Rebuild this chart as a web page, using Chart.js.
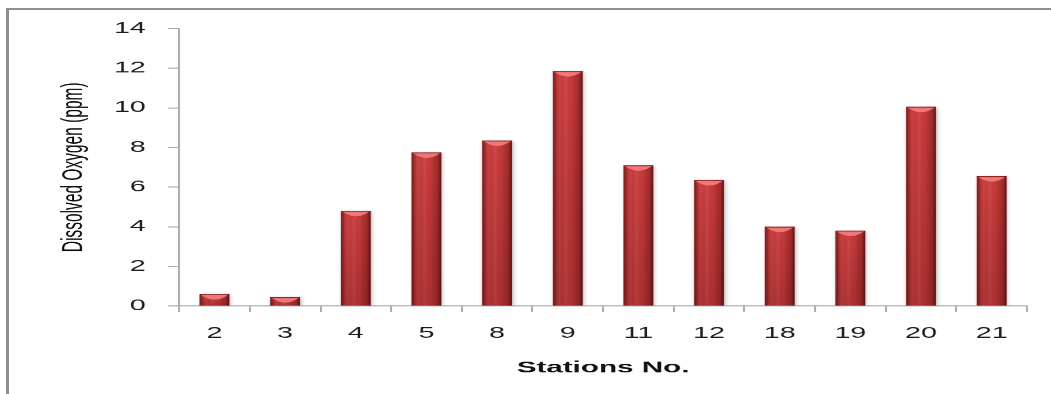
<!DOCTYPE html>
<html>
<head>
<meta charset="utf-8">
<script src="https://cdn.jsdelivr.net/npm/chart.js@4"></script>
<style>
  html, body { margin: 0; padding: 0; background: #ffffff; }
  body { width: 1051px; height: 394px; position: relative; overflow: hidden; }
  /* frame of the chart box, only its left and top edges fall inside the page */
  #frame {
    position: absolute; left: 6px; top: 8px; width: 1100px; height: 420px;
    border-left: 3px solid #8e8e8e; border-top: 2px solid #8e8e8e;
  }
  /* the chart is laid out narrow and widened horizontally */
  #wrap {
    position: absolute; left: 0; top: 0; width: 568px; height: 394px;
    transform: scaleX(1.8504); transform-origin: 0 0;
  }
</style>
</head>
<body>
<div id="frame"></div>
<div id="wrap"><canvas id="chart"></canvas></div>
<script>
// Stations and their dissolved oxygen readings (ppm)
const stations = ['2', '3', '4', '5', '8', '9', '11', '12', '18', '19', '20', '21'];
const dissolvedOxygen = [0.6, 0.45, 4.8, 7.75, 8.35, 11.85, 7.1, 6.35, 4.0, 3.8, 10.05, 6.55];

// Value axis range
const yMin = 0;
const yMax = 14;
const yStep = 2;

const axisGray = '#a6a6a6';
const stretch = 1.8504;

// Bevelled look for the bars: soft shadow underneath, then side shading and a lit top cap
const barLook = {
  id: 'barLook',
  beforeDatasetDraw(chart) {
    const ctx = chart.ctx;
    ctx.save();
    ctx.shadowColor = 'rgba(0,0,0,0.32)';
    ctx.shadowBlur = 5;
    ctx.shadowOffsetX = 1;
    ctx.shadowOffsetY = 1;
  },
  afterDatasetDraw(chart) {
    const ctx = chart.ctx;
    ctx.restore();
    const bars = chart.getDatasetMeta(0).data;
    ctx.save();
    bars.forEach(bar => {
      const { x, y, base, width } = bar.getProps(['x', 'y', 'base', 'width'], true);
      const left = x - width / 2;
      const right = x + width / 2;
      const h = base - y;
      if (h <= 0) return;

      // side shading
      const g = ctx.createLinearGradient(left, 0, right, 0);
      g.addColorStop(0, 'rgba(60,0,0,0.6)');
      g.addColorStop(0.1, 'rgba(60,0,0,0.22)');
      g.addColorStop(0.3, 'rgba(255,255,255,0.0)');
      g.addColorStop(0.45, 'rgba(255,255,255,0.08)');
      g.addColorStop(0.62, 'rgba(0,0,0,0.0)');
      g.addColorStop(0.88, 'rgba(40,0,0,0.25)');
      g.addColorStop(1, 'rgba(30,0,0,0.65)');
      ctx.fillStyle = g;
      ctx.fillRect(left, y, width, h);

      // slight darkening toward the base
      const v = ctx.createLinearGradient(0, y, 0, base);
      v.addColorStop(0, 'rgba(0,0,0,0)');
      v.addColorStop(1, 'rgba(40,0,0,0.18)');
      ctx.fillStyle = v;
      ctx.fillRect(left, y, width, h);

      // lit top cap with a soft dip in the middle
      const capH = Math.min(6, h);
      ctx.beginPath();
      ctx.moveTo(left + 0.5, y + 0.6);
      ctx.lineTo(right - 0.5, y + 0.6);
      ctx.lineTo(right - width * 0.12, y + capH * 0.4);
      ctx.quadraticCurveTo(x, y + capH * 1.5, left + width * 0.12, y + capH * 0.4);
      ctx.closePath();
      ctx.fillStyle = 'rgba(246,125,125,0.9)';
      ctx.fill();
      ctx.strokeStyle = 'rgba(150,30,30,0.35)';
      ctx.lineWidth = 0.6;
      ctx.stroke();
      ctx.fillStyle = 'rgba(120,20,20,0.65)';
      ctx.fillRect(left, y, width, 0.8);
    });
    ctx.restore();
  }
};

new Chart(document.getElementById('chart'), {
  type: 'bar',
  data: {
    labels: stations,
    datasets: [{
      data: dissolvedOxygen,
      backgroundColor: '#ca3a3b',
      borderWidth: 0,
      categoryPercentage: 1.0,
      barPercentage: 0.42
    }]
  },
  options: {
    responsive: true,
    maintainAspectRatio: false,
    devicePixelRatio: stretch,
    animation: false,
    layout: { padding: { left: 0, right: 13, top: 28.5, bottom: 0 } },
    plugins: {
      legend: { display: false },
      tooltip: { enabled: false }
    },
    scales: {
      x: {
        grid: {
          offset: true,
          drawOnChartArea: false,
          drawTicks: true,
          tickLength: 6,
          color: axisGray
        },
        border: { display: true, color: axisGray, width: 1 },
        ticks: {
          padding: 12,
          color: '#1c1c1c',
          font: { family: 'Liberation Sans', size: 15.5 }
        },
        title: {
          display: true,
          text: 'Stations No.',
          color: '#111111',
          font: { family: 'Liberation Sans', size: 16, weight: 'bold' },
          padding: { top: 0, bottom: 16.7 }
        },
        afterFit(scale) { scale.height = 88; }
      },
      y: {
        min: yMin,
        max: yMax,
        grid: {
          drawOnChartArea: false,
          drawTicks: true,
          tickLength: 6,
          color: axisGray
        },
        border: { display: true, color: axisGray, width: 1 },
        ticks: {
          stepSize: yStep,
          padding: 12,
          color: '#1c1c1c',
          font: { family: 'Liberation Sans', size: 15.5 }
        },
        title: {
          display: true,
          text: 'Dissolved Oxygen (ppm)',
          color: '#0d0d0d',
          font: { family: 'Liberation Sans', size: 15.5 },
          padding: { top: 31, bottom: 0 }
        },
        afterFit(scale) { scale.width = 96.8; }
      }
    }
  },
  plugins: [barLook]
});
</script>
</body>
</html>
